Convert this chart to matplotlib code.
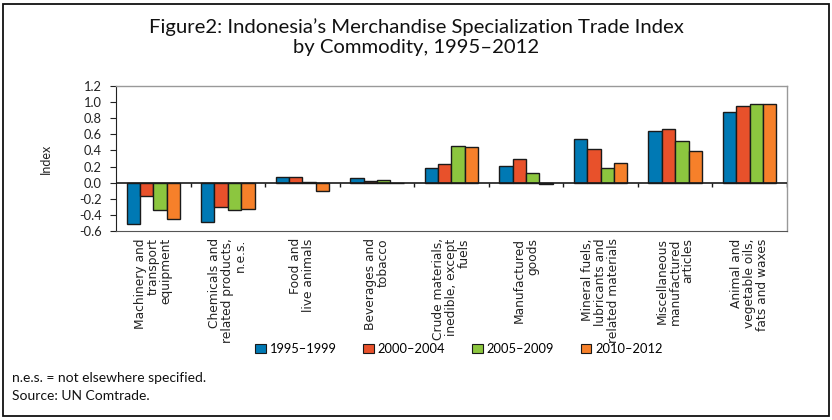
import matplotlib
matplotlib.use("Agg")
import matplotlib.pyplot as plt
import numpy as np
from matplotlib.patches import Rectangle, Patch

categories = [
    "Machinery and\ntransport\nequipment",
    "Chemicals and\nrelated products,\nn.e.s.",
    "Food and\nlive animals",
    "Beverages and\ntobacco",
    "Crude materials,\ninedible, except\nfuels",
    "Manufactured\ngoods",
    "Mineral fuels,\nlubricants and\nrelated materials",
    "Miscellaneous\nmanufactured\narticles",
    "Animal and\nvegetable oils,\nfats and waxes",
]
series_names = ["1995–1999", "2000–2004", "2005–2009", "2010–2012"]
v_1995_1999 = [-0.51, -0.484, 0.066, 0.062, 0.178, 0.211, 0.546, 0.645, 0.881]
v_2000_2004 = [-0.17, -0.30, 0.074, 0.025, 0.236, 0.29, 0.422, 0.67, 0.956]
v_2005_2009 = [-0.335, -0.335, 0.012, 0.037, 0.459, 0.124, 0.186, 0.521, 0.98]
v_2010_2012 = [-0.447, -0.323, -0.10, 0.0, 0.447, -0.012, 0.248, 0.397, 0.98]
yticks = [-0.6, -0.4, -0.2, 0.0, 0.2, 0.4, 0.6, 0.8, 1.0, 1.2]
ytick_labels = ["-0.6", "-0.4", "-0.2", "0.0", "0.2", "0.4", "0.6", "0.8", "1.0", "1.2"]
colors = ["#0079B4", "#E8512B", "#8CC63F", "#F6802A"]

series = [v_1995_1999, v_2000_2004, v_2005_2009, v_2010_2012]

fig = plt.figure(figsize=(8.32, 4.2), dpi=100)
ax = fig.add_axes([116/832, 1-231/420, 671/832, 145/420])

x = np.arange(len(categories))
w = 0.179
for j, (vals, c) in enumerate(zip(series, colors)):
    ax.bar(x + (j - 1.5) * w, vals, width=w, color=c, edgecolor="#1a1a1a", linewidth=1.0, zorder=3)

ax.set_xlim(-0.5, len(categories) - 0.5)
ax.set_ylim(-0.6, 1.2)
ax.set_yticks(yticks)
ax.set_yticklabels(ytick_labels, fontsize=9.3, family="Lato", color="#222222")
ax.tick_params(axis="y", direction="out", length=4.5, width=0.8, color="#222222", pad=5.5)
ax.set_xticks([])

# zero line with category boundary ticks
ax.axhline(0, color="#1a1a1a", linewidth=1.2, zorder=4)
bounds = x[1:] - 0.5
bounds = np.append(bounds, len(categories) - 0.5)
ax.vlines(bounds, -0.05, 0, color="#1a1a1a", linewidth=1.0, zorder=4)

for s in ["top", "right"]:
    ax.spines[s].set_color("#999999")
    ax.spines[s].set_linewidth(1.0)
ax.spines["bottom"].set_color("#555555")
ax.spines["left"].set_color("#222222")

for i, lab in enumerate(categories):
    ax.text(i, -0.6 - 0.09, lab, rotation=90, ha="center", va="top",
            multialignment="right", fontsize=8.8, family="DejaVu Sans",
            linespacing=1.0, color="#222222")

ax.set_ylabel("Index", fontsize=9, family="Lato", labelpad=20, color="#222222")

fig.text(0.5, 1-37/420, "Figure2: Indonesia’s Merchandise Specialization Trade Index\nby Commodity, 1995–2012",
         ha="center", va="center", fontsize=14.6, family="Lato", linespacing=1.2, color="#111111")

handles = [Patch(facecolor=c, edgecolor="#1a1a1a", linewidth=0.8) for c in colors]
fig.legend(handles, series_names, loc="center", bbox_to_anchor=(459/832, 1-349/420),
           ncol=4, frameon=False, prop={"family": "Lato", "size": 9.3},
           handlelength=0.8, handleheight=0.8, handletextpad=0.3, columnspacing=2.1)

fig.text(12/832, 1-378/420, "n.e.s. = not elsewhere specified.", fontsize=10, family="Lato", va="center", color="#111111")
fig.text(12/832, 1-396/420, "Source: UN Comtrade.", fontsize=10, family="Lato", va="center", color="#111111")

fig.patches.append(Rectangle((3/832, 4/420), 826/832, 412/420, transform=fig.transFigure,
                             fill=False, edgecolor="#111111", linewidth=1.3))

fig.savefig("out.png", dpi=100)
